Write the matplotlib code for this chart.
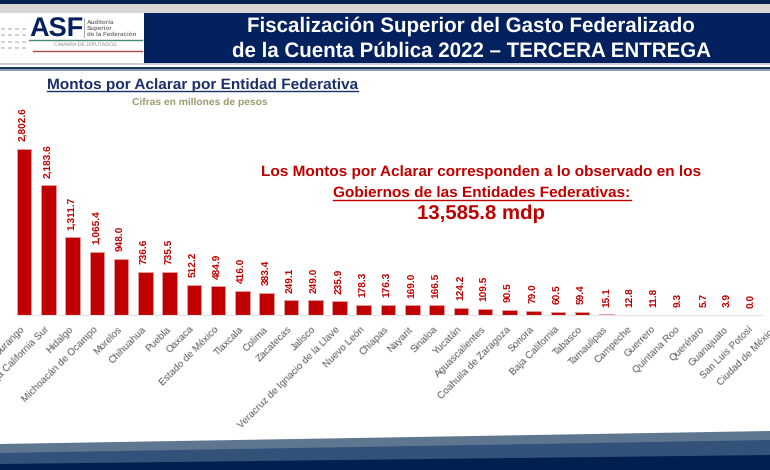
import matplotlib
matplotlib.use('Agg')
import matplotlib.pyplot as plt
from matplotlib.patches import Polygon, Rectangle
from matplotlib.transforms import ScaledTranslation

plt.rcParams['font.family'] = ['Liberation Sans', 'DejaVu Sans']
plt.rcParams['text.hinting'] = 'no_hinting'

# datos
entidades = ['Durango', 'Baja California Sur', 'Hidalgo', 'Michoacán de Ocampo', 'Morelos',
             'Chihuahua', 'Puebla', 'Oaxaca', 'Estado de México', 'Tlaxcala', 'Colima',
             'Zacatecas', 'Jalisco', 'Veracruz de Ignacio de la Llave', 'Nuevo León', 'Chiapas',
             'Nayarit', 'Sinaloa', 'Yucatán', 'Aguascalientes', 'Coahuila de Zaragoza', 'Sonora',
             'Baja California', 'Tabasco', 'Tamaulipas', 'Campeche', 'Guerrero', 'Quintana Roo',
             'Querétaro', 'Guanajuato', 'San Luis Potosí', 'Ciudad de México']
montos = [2802.6, 2183.6, 1311.7, 1065.4, 948.0, 736.6, 735.5, 512.2, 484.9, 416.0, 383.4,
          249.1, 249.0, 235.9, 178.3, 176.3, 169.0, 166.5, 124.2, 109.5, 90.5, 79.0,
          60.5, 59.4, 15.1, 12.8, 11.8, 9.3, 5.7, 3.9, 0.0, 0.0]

NAVY = '#03215f'
RED = '#c00000'

fig = plt.figure(figsize=(7.7, 4.7), dpi=100, facecolor='white')

# capa de fondo en pixeles
bg = fig.add_axes([0, 0, 1, 1])
bg.set_xlim(0, 770)
bg.set_ylim(470, 0)
bg.axis('off')

# encabezado
bg.add_patch(Rectangle((0, 0), 770, 4, fc='#05234f', ec='none'))
bg.add_patch(Rectangle((0, 4), 770, 9, fc='#d9d6d6', ec='none'))
bg.add_patch(Rectangle((144, 13), 626, 50, fc=NAVY, ec='none'))
bg.add_patch(Rectangle((0, 63), 770, 2, fc='#c8ccd4', ec='none'))
bg.add_patch(Rectangle((0, 66.5), 770, 2.5, fc='#1f3554', ec='none'))
bg.add_patch(Rectangle((0, 69), 770, 2, fc='#8b9ab0', ec='none'))

# logo
for x in [1, 8, 15, 22]:
    for y in [28, 34, 41, 47]:
        bg.add_patch(Rectangle((x, y), 4, 2, fc='#d2d2d2', ec='none'))
bg.text(29, 36.5, 'ASF', color=NAVY, fontsize=19.5, fontweight='bold', va='baseline', ha='left')
bg.plot([84, 84], [18, 37], color='#888888', lw=0.5)
bg.text(87, 22, 'Auditoría', color='#777777', fontsize=4.5, fontweight='bold', va='center')
bg.text(87, 28, 'Superior', color='#777777', fontsize=4.5, fontweight='bold', va='center')
bg.text(87, 34.5, 'de la Federación', color='#777777', fontsize=4.5, fontweight='bold', va='center')
bg.plot([29, 142], [39.5, 39.5], color='#4a8a6a', lw=1)
bg.text(85, 45, 'CÁMARA DE DIPUTADOS', color='#888888', fontsize=3.8, ha='center', va='center')
bg.plot([33, 142], [50.5, 50.5], color='#a84a4a', lw=1)

# titulo
bg.text(471, 26.5, 'Fiscalización Superior del Gasto Federalizado', color='white', fontsize=14.8,
        fontweight='bold', ha='center', va='center')
bg.text(471, 51.5, 'de la Cuenta Pública 2022 – TERCERA ENTREGA', color='white', fontsize=14.8,
        fontweight='bold', ha='center', va='center')

# subtitulos
bg.text(47, 85, 'Montos por Aclarar por Entidad Federativa', color='#1b2f6b', fontsize=11.08,
        fontweight='bold', ha='left', va='center')
bg.plot([47, 358], [91, 91], color='#1b2f6b', lw=1)
bg.text(200, 102, 'Cifras en millones de pesos', color='#9b9a6e', fontsize=7.4,
        fontweight='bold', ha='center', va='center')

# nota
bg.text(481, 172, 'Los Montos por Aclarar corresponden a lo observado en los', color=RED,
        fontsize=11.1, fontweight='bold', ha='center', va='center')
bg.text(482, 193.5, 'Gobiernos de las Entidades Federativas:', color=RED,
        fontsize=11.1, fontweight='bold', ha='center', va='center')
bg.plot([333, 631], [199.5, 199.5], color=RED, lw=1)
bg.text(481, 214, '13,585.8 mdp', color=RED, fontsize=14.7, fontweight='bold', ha='center', va='center')

# franjas inferiores
bg.add_patch(Polygon([(0, 444), (770, 431), (770, 470), (0, 470)], fc='#5f7690', ec='none'))
bg.add_patch(Polygon([(0, 453), (770, 440), (770, 470), (0, 470)], fc='#33527a', ec='none'))
bg.add_patch(Polygon([(0, 464), (770, 455), (770, 470), (0, 470)], fc='#002050', ec='none'))

# grafica de barras, el eje sigue mas alla del borde para que entre Ciudad de México
ax = fig.add_axes([0, (470 - 315.3) / 470, 800 / 770, 215.3 / 470])
ax.patch.set_alpha(0)
pos = list(range(len(entidades)))
anchos = [0.6 if m > 0 else 0 for m in montos]
ax.bar(pos, montos, width=0.6, color=RED, edgecolor='#e6a0a0', linewidth=anchos)

for p, m in zip(pos, montos):
    ax.annotate(f'{m:,.1f}', (p, m), xytext=(0, 5.5), textcoords='offset points', rotation=90,
                ha='center', va='bottom', color=RED, fontsize=7.3, fontweight='bold')

ax.set_xticks(pos)
ax.set_xticklabels(entidades, rotation=45, ha='right', rotation_mode='anchor', color='#595959', fontsize=7.2)
ax.tick_params(axis='x', length=0, pad=6.7)
desplaza = ScaledTranslation(-2.8 / 72, 0, fig.dpi_scale_trans)
for lab in ax.get_xticklabels():
    lab.set_transform(lab.get_transform() + desplaza)
ax.set_xlim(-24 / 24.27, (800 - 24) / 24.27)
ax.set_ylim(0, 215.3 / 166.6 * 2802.6)
ax.set_yticks([])
for s in ['top', 'left', 'right']:
    ax.spines[s].set_visible(False)
ax.spines['bottom'].set_color('#e3e3e3')
ax.spines['bottom'].set_bounds(-0.35, 30.4)

fig.savefig('out.png', dpi=100)
